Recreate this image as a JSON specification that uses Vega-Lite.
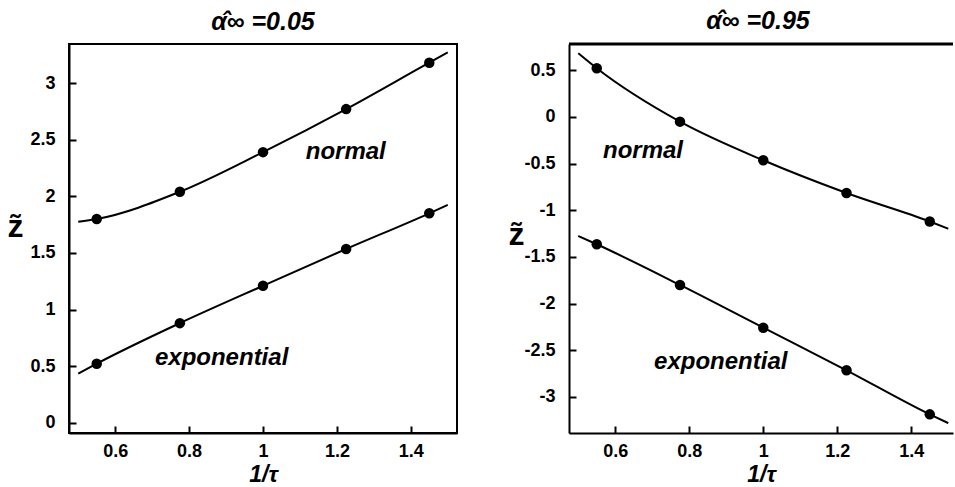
{
  "$schema": "https://vega.github.io/schema/vega-lite/v6.json",
  "padding": {"left": 6, "top": 8, "right": 0, "bottom": 0},
  "spacing": 112,
  "bounds": "flush",
  "config": {
    "font": "Liberation Sans",
    "view": {"stroke": null},
    "axis": {
      "grid": false,
      "domainColor": "black",
      "domainWidth": 2,
      "tickColor": "black",
      "tickWidth": 2,
      "tickSize": -7,
      "labelColor": "black",
      "labelFont": "Liberation Sans",
      "labelFontWeight": "bold",
      "labelFontSize": 18,
      "titleColor": "black",
      "titleFont": "Liberation Sans",
      "titleFontWeight": "bold"
    },
    "title": {"font": "Liberation Sans", "fontSize": 25, "fontWeight": "bold", "fontStyle": "italic", "color": "black", "offset": 9}
  },
  "datasets": {
    "fitL": [
      {"series": "normal", "x": 0.5, "y": 1.776},
      {"series": "normal", "x": 0.55, "y": 1.8},
      {"series": "normal", "x": 0.775, "y": 2.04},
      {"series": "normal", "x": 1.0, "y": 2.39},
      {"series": "normal", "x": 1.225, "y": 2.77},
      {"series": "normal", "x": 1.45, "y": 3.18},
      {"series": "normal", "x": 1.5, "y": 3.27},
      {"series": "exponential", "x": 0.5, "y": 0.434},
      {"series": "exponential", "x": 0.55, "y": 0.522},
      {"series": "exponential", "x": 0.775, "y": 0.88},
      {"series": "exponential", "x": 1.0, "y": 1.21},
      {"series": "exponential", "x": 1.225, "y": 1.535},
      {"series": "exponential", "x": 1.45, "y": 1.85},
      {"series": "exponential", "x": 1.5, "y": 1.924}
    ],
    "ptsL": [
      {"series": "normal", "x": 0.55, "y": 1.8},
      {"series": "normal", "x": 0.775, "y": 2.04},
      {"series": "normal", "x": 1.0, "y": 2.39},
      {"series": "normal", "x": 1.225, "y": 2.77},
      {"series": "normal", "x": 1.45, "y": 3.18},
      {"series": "exponential", "x": 0.55, "y": 0.522},
      {"series": "exponential", "x": 0.775, "y": 0.88},
      {"series": "exponential", "x": 1.0, "y": 1.21},
      {"series": "exponential", "x": 1.225, "y": 1.535},
      {"series": "exponential", "x": 1.45, "y": 1.85}
    ],
    "labL": [
      {"label": "normal", "x": 1.224, "y": 2.39},
      {"label": "exponential", "x": 0.888, "y": 0.573}
    ],
    "fitR": [
      {"series": "normal", "x": 0.5, "y": 0.683},
      {"series": "normal", "x": 0.55, "y": 0.522},
      {"series": "normal", "x": 0.775, "y": -0.05},
      {"series": "normal", "x": 1.0, "y": -0.464},
      {"series": "normal", "x": 1.225, "y": -0.815},
      {"series": "normal", "x": 1.45, "y": -1.12},
      {"series": "normal", "x": 1.5, "y": -1.197},
      {"series": "exponential", "x": 0.5, "y": -1.275},
      {"series": "exponential", "x": 0.55, "y": -1.364},
      {"series": "exponential", "x": 0.775, "y": -1.8},
      {"series": "exponential", "x": 1.0, "y": -2.258},
      {"series": "exponential", "x": 1.225, "y": -2.714},
      {"series": "exponential", "x": 1.45, "y": -3.186},
      {"series": "exponential", "x": 1.5, "y": -3.28}
    ],
    "ptsR": [
      {"series": "normal", "x": 0.55, "y": 0.522},
      {"series": "normal", "x": 0.775, "y": -0.05},
      {"series": "normal", "x": 1.0, "y": -0.464},
      {"series": "normal", "x": 1.225, "y": -0.815},
      {"series": "normal", "x": 1.45, "y": -1.12},
      {"series": "exponential", "x": 0.55, "y": -1.364},
      {"series": "exponential", "x": 0.775, "y": -1.8},
      {"series": "exponential", "x": 1.0, "y": -2.258},
      {"series": "exponential", "x": 1.225, "y": -2.714},
      {"series": "exponential", "x": 1.45, "y": -3.186}
    ],
    "labR": [
      {"label": "normal", "x": 0.675, "y": -0.364},
      {"label": "exponential", "x": 0.885, "y": -2.626}
    ],
    "topR": [{"y": 0.782}]
  },
  "hconcat": [
    {
      "width": 388,
      "height": 389,
      "view": {"stroke": "black", "strokeWidth": 2},
      "title": {"text": "α̂∞ =0.05", "dx": 0},
      "encoding": {
        "x": {"field": "x", "type": "quantitative",
          "scale": {"domain": [0.475, 1.525], "nice": false, "zero": false},
          "axis": {"values": [0.6, 0.8, 1, 1.2, 1.4], "labelExpr": "'' + datum.value", "title": "1/τ", "titleFontSize": 23, "titleFontStyle": "italic", "labelPadding": 16, "titlePadding": 3}},
        "y": {"field": "y", "type": "quantitative",
          "scale": {"domain": [-0.09, 3.345], "nice": false, "zero": false},
          "axis": {"values": [0, 0.5, 1, 1.5, 2, 2.5, 3], "labelExpr": "'' + datum.value", "labelPadding": 21, "title": "z̃", "titleFontSize": 32, "titleAngle": 0, "titleAlign": "center", "titleBaseline": "alphabetic", "titleX": -54, "titleY": 192}}
      },
      "layer": [
        {"data": {"name": "fitL"}, "mark": {"type": "line", "color": "black", "strokeWidth": 2, "interpolate": "monotone"}, "encoding": {"detail": {"field": "series"}}},
        {"data": {"name": "ptsL"}, "mark": {"type": "circle", "color": "black", "opacity": 1, "size": 110}},
        {"data": {"name": "labL"}, "mark": {"type": "text", "font": "Liberation Sans", "fontSize": 24, "fontWeight": "bold", "fontStyle": "italic", "color": "black", "baseline": "middle", "align": "center"}, "encoding": {"text": {"field": "label"}}}
      ]
    },
    {
      "width": 384,
      "height": 389,
      "title": {"text": "α̂∞ =0.95", "dx": -3},
      "encoding": {
        "x": {"field": "x", "type": "quantitative",
          "scale": {"domain": [0.475, 1.5128], "nice": false, "zero": false},
          "axis": {"values": [0.6, 0.8, 1, 1.2, 1.4], "labelExpr": "'' + datum.value", "title": "1/τ", "titleFontSize": 23, "titleFontStyle": "italic", "labelPadding": 16, "titlePadding": 3}},
        "y": {"field": "y", "type": "quantitative",
          "scale": {"domain": [-3.386, 0.782], "nice": false, "zero": false},
          "axis": {"values": [-3, -2.5, -2, -1.5, -1, -0.5, 0, 0.5], "labelExpr": "'' + datum.value", "labelPadding": 21, "title": "z̃", "titleFontSize": 32, "titleAngle": 0, "titleAlign": "center", "titleBaseline": "alphabetic", "titleX": -53, "titleY": 200}}
      },
      "layer": [
        {"data": {"name": "topR"}, "mark": {"type": "rule", "color": "black", "strokeWidth": 3}, "encoding": {"x": null}},
        {"data": {"name": "fitR"}, "mark": {"type": "line", "color": "black", "strokeWidth": 2, "interpolate": "monotone"}, "encoding": {"detail": {"field": "series"}}},
        {"data": {"name": "ptsR"}, "mark": {"type": "circle", "color": "black", "opacity": 1, "size": 110}},
        {"data": {"name": "labR"}, "mark": {"type": "text", "font": "Liberation Sans", "fontSize": 24, "fontWeight": "bold", "fontStyle": "italic", "color": "black", "baseline": "middle", "align": "center"}, "encoding": {"text": {"field": "label"}}}
      ]
    }
  ]
}
